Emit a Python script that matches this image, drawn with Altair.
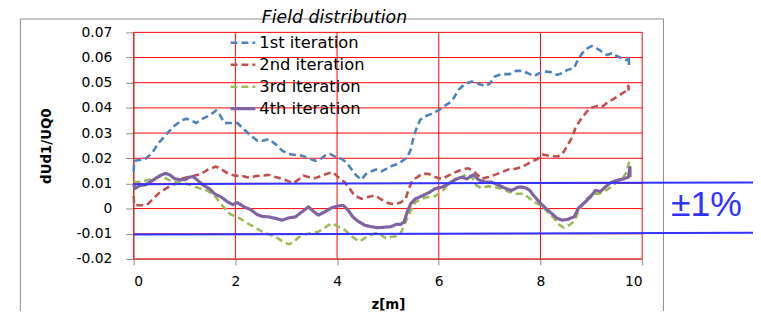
import altair as alt
import pandas as pd

# ---------------- data ----------------
series_names = ["1st iteration", "2nd iteration", "3rd iteration", "4th iteration"]
series_colors = ["#4F81BD", "#C0504D", "#9BBB59", "#8064A2"]

z1 = [0.0, 0.01, 0.03, 0.23, 0.36, 0.49, 0.62, 0.71, 0.81, 0.94,
      1.04, 1.13, 1.23, 1.33, 1.46, 1.56, 1.62, 1.69, 1.78, 1.91,
      2.04, 2.17, 2.30, 2.43, 2.53, 2.66, 2.79, 2.92, 3.05, 3.18,
      3.31, 3.44, 3.57, 3.66, 3.76, 3.86, 3.96, 4.09, 4.18, 4.28,
      4.38, 4.48, 4.57, 4.67, 4.77, 4.87, 4.96, 5.06, 5.16, 5.29,
      5.38, 5.45, 5.51, 5.58, 5.64, 5.74, 5.87, 6.00, 6.13, 6.26,
      6.39, 6.52, 6.65, 6.78, 6.91, 7.00, 7.10, 7.23, 7.39, 7.52,
      7.65, 7.78, 7.88, 7.98, 8.07, 8.20, 8.33, 8.43, 8.53, 8.66,
      8.72, 8.82, 8.92, 9.01, 9.11, 9.21, 9.31, 9.40, 9.50, 9.63,
      9.73, 9.74, 9.74]
v1 = [0.0145, 0.0185, 0.019, 0.0197, 0.022, 0.026, 0.029, 0.031, 0.033, 0.035,
      0.0357, 0.035, 0.034, 0.0354, 0.0367, 0.038, 0.039, 0.0374, 0.034, 0.034,
      0.034, 0.0315, 0.029, 0.027, 0.0269, 0.0276, 0.0256, 0.023, 0.0217, 0.0213,
      0.021, 0.020, 0.019, 0.0194, 0.021, 0.0217, 0.0206, 0.0197, 0.0184, 0.0157,
      0.0131, 0.0115, 0.0138, 0.0148, 0.0155, 0.0148, 0.0157, 0.0168, 0.0175, 0.019,
      0.0203, 0.0236, 0.0289, 0.0328, 0.0354, 0.0367, 0.0378, 0.0391, 0.041, 0.0427,
      0.0472, 0.0496, 0.0505, 0.0496, 0.0486, 0.0496, 0.0525, 0.0534, 0.0534, 0.0547,
      0.0547, 0.0535, 0.0527, 0.0538, 0.0545, 0.0542, 0.0531, 0.0538, 0.0551, 0.0558,
      0.0584, 0.0617, 0.0636, 0.0646, 0.0636, 0.0623, 0.061, 0.0617, 0.0606, 0.0594,
      0.0588, 0.0606, 0.057]

z2 = [0.0, 0.01, 0.1, 0.23, 0.29, 0.39, 0.49, 0.58, 0.68, 0.81,
      0.94, 1.07, 1.2, 1.33, 1.46, 1.62, 1.72, 1.85, 1.98, 2.14,
      2.27, 2.40, 2.53, 2.66, 2.79, 2.92, 3.05, 3.14, 3.24, 3.34,
      3.44, 3.57, 3.70, 3.83, 3.92, 4.02, 4.15, 4.25, 4.34, 4.48,
      4.61, 4.74, 4.87, 5.0, 5.12, 5.25, 5.35, 5.41, 5.48, 5.58,
      5.67, 5.80, 5.93, 6.06, 6.19, 6.32, 6.45, 6.58, 6.71, 6.84,
      6.97, 7.10, 7.23, 7.36, 7.49, 7.62, 7.74, 7.81, 7.94, 8.04,
      8.17, 8.33, 8.43, 8.53, 8.62, 8.69, 8.79, 8.89, 8.98, 9.11,
      9.21, 9.31, 9.44, 9.57, 9.67, 9.73, 9.74]
v2 = [0.005, 0.0015, 0.0013, 0.0013, 0.002, 0.004, 0.006, 0.0072, 0.0085, 0.0098,
      0.0118, 0.0125, 0.0131, 0.0138, 0.0155, 0.0167, 0.0157, 0.014, 0.0131, 0.0129,
      0.0122, 0.0129, 0.0131, 0.0134, 0.0125, 0.0118, 0.0108, 0.0101, 0.0115, 0.0131,
      0.0125, 0.0121, 0.0131, 0.014, 0.0144, 0.0125, 0.0105, 0.0079, 0.0052, 0.0039,
      0.0046, 0.0052, 0.0037, 0.0022, 0.0017, 0.0024, 0.0039, 0.0079, 0.0112, 0.0125,
      0.0138, 0.0138, 0.0125, 0.0118, 0.0131, 0.0144, 0.0155, 0.016, 0.0144, 0.0118,
      0.0125, 0.0134, 0.0144, 0.0155, 0.0157, 0.0164, 0.0177, 0.0185, 0.0197, 0.0215,
      0.021, 0.0207, 0.0217, 0.025, 0.0282, 0.0322, 0.0354, 0.038, 0.04, 0.0407,
      0.0404, 0.042, 0.0436, 0.0453, 0.0466, 0.0488, 0.0453]

z3 = [0.0, 0.06, 0.16, 0.29, 0.42, 0.55, 0.65, 0.75, 0.84, 0.94,
      1.04, 1.13, 1.23, 1.33, 1.46, 1.59, 1.69, 1.82, 1.91, 2.04,
      2.14, 2.27, 2.40, 2.53, 2.66, 2.79, 2.92, 3.05, 3.14, 3.24,
      3.37, 3.50, 3.63, 3.73, 3.83, 3.92, 4.02, 4.12, 4.22, 4.34,
      4.44, 4.54, 4.64, 4.77, 4.87, 4.96, 5.06, 5.16, 5.25, 5.35,
      5.45, 5.54, 5.67, 5.80, 5.93, 6.06, 6.19, 6.32, 6.45, 6.55,
      6.65, 6.74, 6.84, 6.97, 7.10, 7.23, 7.39, 7.52, 7.65, 7.75,
      7.88, 8.01, 8.14, 8.27, 8.36, 8.46, 8.56, 8.66, 8.75, 8.85,
      8.95, 9.05, 9.14, 9.24, 9.34, 9.43, 9.53, 9.63, 9.69, 9.75]
v3 = [0.011, 0.0105, 0.0107, 0.0114, 0.0121, 0.0131, 0.0118, 0.0108, 0.0105, 0.0108,
      0.0098, 0.0094, 0.0085, 0.0079, 0.007, 0.0052, 0.0026, -0.0007, -0.0024, -0.0033,
      -0.0046, -0.0062, -0.0076, -0.0092, -0.0102, -0.0112, -0.0129, -0.0142, -0.0134, -0.0115,
      -0.0102, -0.0098, -0.0092, -0.0081, -0.0066, -0.0059, -0.0072, -0.0079, -0.0098, -0.0118,
      -0.0131, -0.0118, -0.0105, -0.0098, -0.0105, -0.0118, -0.0112, -0.011, -0.0098, -0.0052,
      -0.0007, 0.0026, 0.0039, 0.0046, 0.005, 0.0066, 0.0098, 0.0112, 0.0125, 0.0138,
      0.0125, 0.0092, 0.0081, 0.0089, 0.0085, 0.0079, 0.0066, 0.0059, 0.0059, 0.0046,
      0.0026, 0.0013, -0.0013, -0.0039, -0.0063, -0.0076, -0.0066, -0.0052, -0.0013, 0.0026,
      0.0046, 0.0059, 0.0059, 0.0066, 0.0079, 0.0094, 0.0108, 0.0125, 0.0144, 0.019]

z4 = [0.0, 0.03, 0.13, 0.23, 0.32, 0.42, 0.52, 0.62, 0.71, 0.81,
      0.91, 1.01, 1.10, 1.17, 1.26, 1.36, 1.49, 1.59, 1.72, 1.85,
      1.95, 2.04, 2.17, 2.30, 2.43, 2.53, 2.66, 2.79, 2.92, 3.05,
      3.18, 3.31, 3.44, 3.53, 3.63, 3.76, 3.89, 4.02, 4.12, 4.22,
      4.31, 4.41, 4.54, 4.67, 4.80, 4.93, 5.06, 5.16, 5.25, 5.32,
      5.38, 5.45, 5.54, 5.67, 5.80, 5.93, 6.06, 6.19, 6.32, 6.45,
      6.55, 6.68, 6.78, 6.91, 7.04, 7.17, 7.30, 7.43, 7.56, 7.65,
      7.72, 7.78, 7.88, 7.98, 8.07, 8.20, 8.33, 8.43, 8.53, 8.66,
      8.75, 8.85, 8.98, 9.08, 9.18, 9.27, 9.37, 9.50, 9.63, 9.73,
      9.76, 9.76]
v4 = [0.0095, 0.008, 0.0092, 0.0094, 0.0105, 0.0118, 0.0131, 0.014, 0.0134, 0.0118,
      0.0115, 0.0115, 0.0125, 0.0127, 0.0112, 0.0094, 0.0079, 0.0059, 0.0046, 0.0026,
      0.0016, 0.0024, 0.0007, -0.0004, -0.0024, -0.0031, -0.0033, -0.0039, -0.0046, -0.0037,
      -0.0033, -0.0013, 0.0007, -0.001, -0.0026, -0.0013, 0.0003, 0.001, 0.0013, -0.0007,
      -0.0033, -0.005, -0.0066, -0.0072, -0.0076, -0.0074, -0.0072, -0.0063, -0.0063, -0.0052,
      -0.0013, 0.002, 0.0039, 0.005, 0.0063, 0.0079, 0.0085, 0.0098, 0.0115, 0.0125,
      0.0118, 0.0134, 0.0115, 0.0105, 0.0105, 0.0094, 0.0081, 0.0072, 0.0085, 0.0085,
      0.0081, 0.0074, 0.0049, 0.0026, 0.0007, -0.0016, -0.0039, -0.0046, -0.0043, -0.0033,
      0.0003, 0.002, 0.0046, 0.0072, 0.0068, 0.0085, 0.0102, 0.0112, 0.0118, 0.0125,
      0.0164, 0.0125]

# +-1% band lines (value at left end, value at right end)
band_left = [0.0097, -0.0103]
band_right = [0.0104, -0.0096]
band_label = "±1%"

x_ticks = [0, 2, 4, 6, 8, 10]
y_ticks = [-0.02, -0.01, 0, 0.01, 0.02, 0.03, 0.04, 0.05, 0.06, 0.07]
chart_title = "Field distribution"
x_title = "z[m]"
y_title = "dUd1/UQ0"

# ---------------- build ----------------
W, H = 514, 229
FONT = "DejaVu Sans"
BAND_COLOR = "#3333FF"
GRID_COLOR = "#ff0000"

frames = []
for name, zs, vs in zip(series_names, [z1, z2, z3, z4], [v1, v2, v3, v4]):
    frames.append(pd.DataFrame({"z": zs, "v": vs, "series": name, "i": range(len(zs))}))
df = pd.concat(frames, ignore_index=True)

x_scale = alt.Scale(domain=[0, 10], nice=False, zero=False)
y_scale = alt.Scale(domain=[-0.02, 0.07], nice=False, zero=False)

y_label_expr = ("datum.value == 0 ? '0' : (datum.value < 0 ? '-' + format(-datum.value, '.2f')"
                " : format(datum.value, '.2f'))")
x_axis = alt.Axis(values=x_ticks, title=x_title, format="d", grid=False,
                  tickSize=6, labelPadding=10,
                  titleY=46, titleBaseline="middle")
y_axis = alt.Axis(values=y_ticks, title=y_title, labelExpr=y_label_expr, grid=False,
                  tickSize=8, labelPadding=14,
                  titleAngle=270, titleX=-88, titleY=H / 2,
                  titleBaseline="middle", titleAlign="center")

frame_df = pd.DataFrame({"k": [0]})
frame_top = alt.Chart(frame_df).mark_rule(color="#8c8c8c", strokeWidth=1).encode(
    x=alt.value(-114.5), x2=alt.value(535.5), y=alt.value(-13.5))
frame_left = alt.Chart(frame_df).mark_rule(color="#8c8c8c", strokeWidth=1).encode(
    x=alt.value(-114.5), y=alt.value(-13.5), y2=alt.value(400))
frame_right = alt.Chart(frame_df).mark_rule(color="#8c8c8c", strokeWidth=1).encode(
    x=alt.value(535.5), y=alt.value(-13.5), y2=alt.value(400))

vgrid = alt.Chart(pd.DataFrame({"z": x_ticks})).mark_rule(
    color=GRID_COLOR, strokeWidth=1
).encode(x=alt.X("z:Q", scale=x_scale, axis=x_axis), y=alt.value(0), y2=alt.value(H))
hgrid = alt.Chart(pd.DataFrame({"v": y_ticks})).mark_rule(
    color=GRID_COLOR, strokeWidth=1
).encode(y=alt.Y("v:Q", scale=y_scale, axis=y_axis), x=alt.value(0), x2=alt.value(W))

layers = [frame_top, frame_left, frame_right, hgrid, vgrid]
dash = [7, 4]
for k, name in enumerate(series_names):
    solid = (k == 3)
    mk = alt.Chart(df).transform_filter(alt.datum.series == name).mark_line(
        color=series_colors[k],
        strokeWidth=3.2 if solid else 2.6,
        strokeDash=[1, 0] if solid else dash,
        strokeJoin="round",
    ).encode(
        x=alt.X("z:Q", scale=x_scale, axis=x_axis),
        y=alt.Y("v:Q", scale=y_scale, axis=y_axis),
        order=alt.Order("i:Q"),
    )
    layers.append(mk)

band_df = pd.DataFrame({"z": [0, 0], "v": band_left, "v2": band_right})
bands = alt.Chart(band_df).mark_rule(color=BAND_COLOR, strokeWidth=2).encode(
    x=alt.X("z:Q", scale=x_scale, axis=x_axis),
    x2=alt.value(630),
    y=alt.Y("v:Q", scale=y_scale, axis=y_axis),
    y2="v2:Q",
)
layers.append(bands)

band_text = alt.Chart(pd.DataFrame({"t": [band_label]})).mark_text(
    font="Liberation Sans", fontSize=36, color=BAND_COLOR, align="left", baseline="alphabetic"
).encode(text="t:N", x=alt.value(543), y=alt.value(186))
layers.append(band_text)

title_text = alt.Chart(pd.DataFrame({"t": [chart_title]})).mark_text(
    font=FONT, fontSize=17.5, fontStyle="italic", color="#000000",
    align="center", baseline="alphabetic"
).encode(text="t:N", x=alt.value(203), y=alt.value(-9.5))
layers.append(title_text)

leg_df = pd.DataFrame({"name": series_names})
for k, name in enumerate(series_names):
    solid = (k == 3)
    ry = 10.5 + 22.2 * k
    sym = alt.Chart(leg_df).transform_filter(alt.datum.name == name).mark_rule(
        color=series_colors[k], strokeWidth=3.2 if solid else 2.6,
        strokeDash=[1, 0] if solid else dash
    ).encode(x=alt.value(98), x2=alt.value(123), y=alt.value(ry))
    lab = alt.Chart(leg_df).transform_filter(alt.datum.name == name).mark_text(
        font=FONT, fontSize=16.5, color="#000000", align="left", baseline="middle"
    ).encode(text="name:N", x=alt.value(127), y=alt.value(ry))
    layers += [sym, lab]

chart = alt.layer(*layers).properties(
    width=W, height=H,
    autosize=alt.AutoSizeParams(type="none"),
    padding={"left": 127, "top": 23, "right": 112, "bottom": 51},
    background="#ffffff",
).configure_view(stroke=None).configure_axis(
    labelFont=FONT, labelFontSize=14, labelColor="#000000",
    titleFont=FONT, titleFontSize=13.5, titleFontWeight="bold", titleColor="#000000",
    domainColor="#8c8c8c", tickColor="#8c8c8c", domainWidth=1, tickWidth=1,
    labelOverlap=False,
)

chart.save("out.html", embed_options={"renderer": "svg", "actions": False})
